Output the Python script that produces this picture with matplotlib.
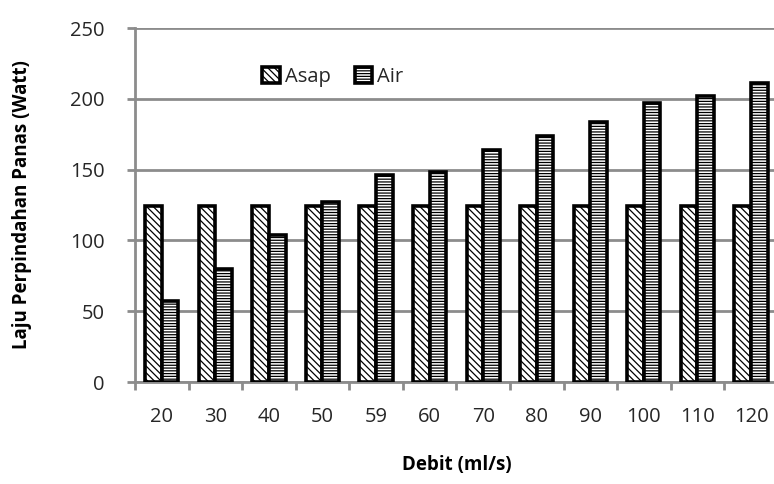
import matplotlib.pyplot as plt
import numpy as np

plt.rcParams['hatch.linewidth'] = 0.9

debit = ['20', '30', '40', '50', '59', '60', '70', '80', '90', '100', '110', '120']
asap = [124, 124, 124, 124, 124, 124, 124, 124, 124, 124, 124, 124]
air = [57, 80, 104, 127, 146, 148, 164, 174, 184, 197, 202, 211]

fig = plt.figure(figsize=(7.74, 4.84), dpi=100, facecolor='white')
ax = fig.add_axes([0.1744, 0.2107, 0.8305, 0.7313])

font = ['Open Sans', 'DejaVu Sans']
grid_col = '#8c8c8c'

x = np.arange(len(debit))
w = 0.31
ax.bar(x - w / 2, asap, w, facecolor='white', edgecolor='black', linewidth=2.6,
       hatch='\\\\\\\\\\', label='Asap', zorder=3)
ax.bar(x + w / 2, air, w, facecolor='white', edgecolor='black', linewidth=2.6,
       hatch='------', label='Air', zorder=3)

ax.set_xlim(-0.5, len(debit) - 0.5)
ax.set_ylim(0, 250)
ax.set_yticks(range(0, 251, 50))
ax.yaxis.grid(True, color=grid_col, linewidth=2)
ax.set_axisbelow(True)

# category labels sit between the boundary ticks
ax.set_xticks(np.arange(-0.5, len(debit), 1))
ax.set_xticklabels([])
ax.set_xticks(x, minor=True)
ax.set_xticklabels(debit, minor=True, fontsize=14.5, family=font, color='#262626')
ax.tick_params(axis='x', which='minor', length=0, pad=18)
ax.tick_params(axis='x', which='major', length=6, width=2, color=grid_col, direction='out')
ax.tick_params(axis='y', length=6, width=2, color=grid_col, direction='out', pad=16)
for lab in ax.get_yticklabels():
    lab.set_fontsize(14.5)
    lab.set_family(font)
    lab.set_color('#262626')

for s in ['top', 'right']:
    ax.spines[s].set_visible(False)
for s in ['left', 'bottom']:
    ax.spines[s].set_color(grid_col)
    ax.spines[s].set_linewidth(2)

ax.set_ylabel('Laju Perpindahan Panas (Watt)', fontsize=13.5, fontweight='bold',
              family=font, labelpad=27)
ax.set_xlabel('Debit (ml/s)', fontsize=13.5, fontweight='bold', family=font, labelpad=20)

leg = ax.legend(loc='upper left', bbox_to_anchor=(0.17, 0.94), ncol=2, frameon=False,
                prop={'family': font, 'size': 14.5}, handlelength=0.85, handleheight=0.85,
                handletextpad=0.25, columnspacing=1.2)
for t in leg.get_texts():
    t.set_color('#262626')

fig.savefig('out.png', dpi=100)
